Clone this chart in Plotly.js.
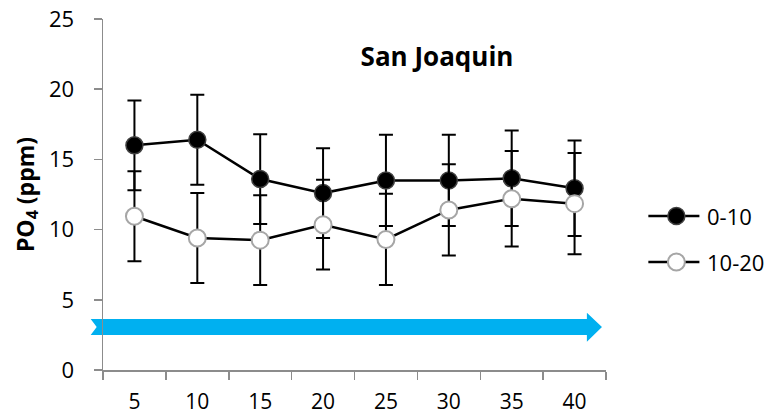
<!DOCTYPE html>
<html>
<head>
<meta charset="utf-8">
<script src="https://cdn.plot.ly/plotly-3.0.1.min.js"></script>
<style>html,body{margin:0;padding:0;background:#fff;}#chart{width:771px;height:416px;}</style>
</head>
<body>
<div id="chart"></div>
<script>
// Depth categories (x axis)
var depths = ['5', '10', '15', '20', '25', '30', '35', '40'];
// Series 0-10
var name1 = '0-10';
var vals1 = [16.0, 16.4, 13.6, 12.6, 13.5, 13.5, 13.65, 12.95];
var err1  = [3.2, 3.2, 3.2, 3.2, 3.25, 3.25, 3.4, 3.4];
// Series 10-20
var name2 = '10-20';
var vals2 = [10.95, 9.4, 9.25, 10.35, 9.3, 11.4, 12.2, 11.85];
var err2  = [3.2, 3.2, 3.2, 3.2, 3.25, 3.25, 3.4, 3.6];
// Axis ticks
var yTicks = [0, 5, 10, 15, 20, 25];

var FONT = 'Open Sans, Noto Sans, sans-serif';

var style1 = {fill: '#000000', border: '#404040', bw: 1.5};
var style2 = {fill: '#ffffff', border: '#a6a6a6', bw: 2};

var traces = [
  {
    x: depths, y: vals1, name: name1, type: 'scatter', mode: 'lines+markers',
    line: {color: '#000000', width: 2.5},
    marker: {size: 17, color: style1.fill, line: {color: style1.border, width: style1.bw}},
    error_y: {type: 'data', array: err1, visible: true, color: '#000000', thickness: 2, width: 7}
  },
  {
    x: depths, y: vals2, name: name2, type: 'scatter', mode: 'lines+markers',
    line: {color: '#000000', width: 2.5},
    marker: {size: 17, color: style2.fill, line: {color: style2.border, width: style2.bw}},
    error_y: {type: 'data', array: err2, visible: true, color: '#000000', thickness: 2, width: 7}
  }
];

// Manual legend (positions in paper units of the plot area)
var PW = 502.4, PH = 351;
function legendItem(name, st, yPaper) {
  var x0 = 1.0842, x1 = 1.1857, xc = 1.1399;
  var rx = 8.5 / PW, ry = 8.5 / PH;
  return {
    shapes: [
      {type: 'line', xref: 'paper', yref: 'paper', x0: x0, x1: x1, y0: yPaper, y1: yPaper,
       line: {color: '#000000', width: 2.5}},
      {type: 'circle', xref: 'paper', yref: 'paper', x0: xc - rx, x1: xc + rx, y0: yPaper - ry, y1: yPaper + ry,
       fillcolor: st.fill, line: {color: st.border, width: st.bw}}
    ],
    annotation: {xref: 'paper', yref: 'paper', x: 1.1975, y: yPaper, xanchor: 'left', yanchor: 'middle',
      text: name, showarrow: false, font: {family: FONT, size: 22, color: '#000000'}}
  };
}
var li1 = legendItem(name1, style1, 0.4387);
var li2 = legendItem(name2, style2, 0.3077);

var layout = {
  width: 771, height: 416,
  margin: {l: 103.3, r: 165.3, t: 19, b: 46},
  paper_bgcolor: '#ffffff', plot_bgcolor: '#ffffff',
  font: {family: FONT, size: 22, color: '#000000'},
  showlegend: false,
  title: {
    text: '<b>San Joaquin</b>',
    font: {family: FONT, size: 26, color: '#000000'},
    xref: 'paper', yref: 'paper', x: 0.664, y: 0.892,
    xanchor: 'center', yanchor: 'middle'
  },
  xaxis: {
    type: 'category',
    range: [-0.5, 7.5],
    tickson: 'boundaries',
    ticks: 'outside', ticklen: 8, tickwidth: 1.5, tickcolor: '#8c8c8c',
    showline: true, linecolor: '#8c8c8c', linewidth: 1.5,
    showgrid: false, zeroline: false,
    tickfont: {family: FONT, size: 21, color: '#000000'},
    ticklabelstandoff: 12,
    fixedrange: true
  },
  yaxis: {
    range: [0, 25],
    tickvals: yTicks,
    ticks: 'outside', ticklen: 8, tickwidth: 1.5, tickcolor: '#8c8c8c',
    showline: true, linecolor: '#8c8c8c', linewidth: 1.5,
    showgrid: false, zeroline: false,
    tickfont: {family: FONT, size: 22, color: '#000000'},
    ticklabelstandoff: 15,
    title: {text: '<b>PO<sub>4</sub> (ppm)</b>', font: {family: FONT, size: 23, color: '#000000'}, standoff: 8},
    fixedrange: true
  },
  annotations: [li1.annotation, li2.annotation],
  shapes: [
    {
      type: 'path', xref: 'paper', yref: 'y', layer: 'below',
      path: 'M -0.0245,3.63 L 0.962,3.63 L 0.962,4.08 L 0.992,3.06 L 0.962,2.02 L 0.962,2.49 L -0.0245,2.49 L -0.0125,3.06 Z',
      fillcolor: '#00b0f0', line: {width: 0}
    }
  ].concat(li1.shapes, li2.shapes)
};

Plotly.newPlot('chart', traces, layout, {displayModeBar: false, staticPlot: true});
</script>
</body>
</html>
